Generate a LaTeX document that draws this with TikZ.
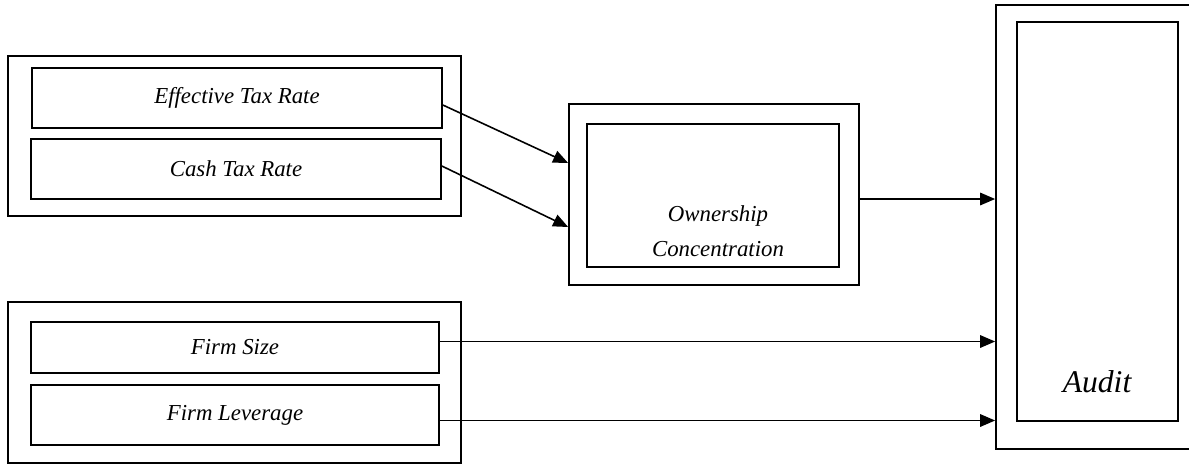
\documentclass[tikz,border=0pt]{standalone}
\usepackage{fontspec}
\setmainfont{Liberation Serif}
\usetikzlibrary{arrows.meta}
\begin{document}
\begin{tikzpicture}[x=0.02cm, y=-0.02cm, every node/.style={font=\fontsize{13}{20}\selectfont\itshape}, frame/.style={draw, line width=1pt, inner sep=0pt}, var/.style={draw, line width=1pt, inner sep=0pt, align=center, minimum width=8.2cm}, flow/.style={-{Triangle[length=0.3cm, width=0.25cm]}, line width=0.9pt}]
\useasboundingbox (0,0) rectangle (1189,464);
\node[frame, minimum width=9.06cm, minimum height=3.2cm] (taxgrp) at (234.5,136) {};
\node[var, minimum height=1.2cm] (eff) at (237,98) {Effective Tax Rate};
\node[var, minimum height=1.2cm] (cash) at (236,169) {Cash Tax Rate};
\node[frame, minimum width=9.06cm, minimum height=3.22cm] (ctrlgrp) at (234.5,382.5) {};
\node[var, minimum width=8.16cm, minimum height=1.02cm] (size) at (235,347.5) {Firm Size};
\node[var, minimum width=8.16cm, minimum height=1.2cm] (lev) at (235,415) {Firm Leverage};
\node[frame, minimum width=5.8cm, minimum height=3.62cm] (owngrp) at (714,194.5) {};
\node[frame, minimum width=5.04cm, minimum height=2.86cm] (own) at (713,195.5) {};
\node[align=center] (owntxt) at (718,231) {Ownership\\Concentration};
\node[frame, minimum width=3.92cm, minimum height=8.88cm] (auditgrp) at (1094,227) {};
\node[frame, minimum width=3.22cm, minimum height=7.98cm] (audit) at (1097.5,221.5) {};
\node[font=\fontsize{18}{22}\selectfont\itshape] (audittxt) at (1097,382) {Audit};
\draw[flow] ([yshift=-0.14cm]eff.east) -- ([yshift=0.63cm]owngrp.west);
\draw[flow] ([yshift=0.06cm]cash.east) -- ([yshift=-0.65cm]owngrp.west);
\draw[flow] ([yshift=-0.09cm]owngrp.east) -- ([yshift=-0.09cm]owngrp.east -| auditgrp.west);
\draw[flow] ([yshift=0.12cm]size.east) -- ([yshift=0.12cm]size.east -| auditgrp.west);
\draw[flow] ([yshift=-0.11cm]lev.east) -- ([yshift=-0.11cm]lev.east -| auditgrp.west);
\end{tikzpicture}
\end{document}
